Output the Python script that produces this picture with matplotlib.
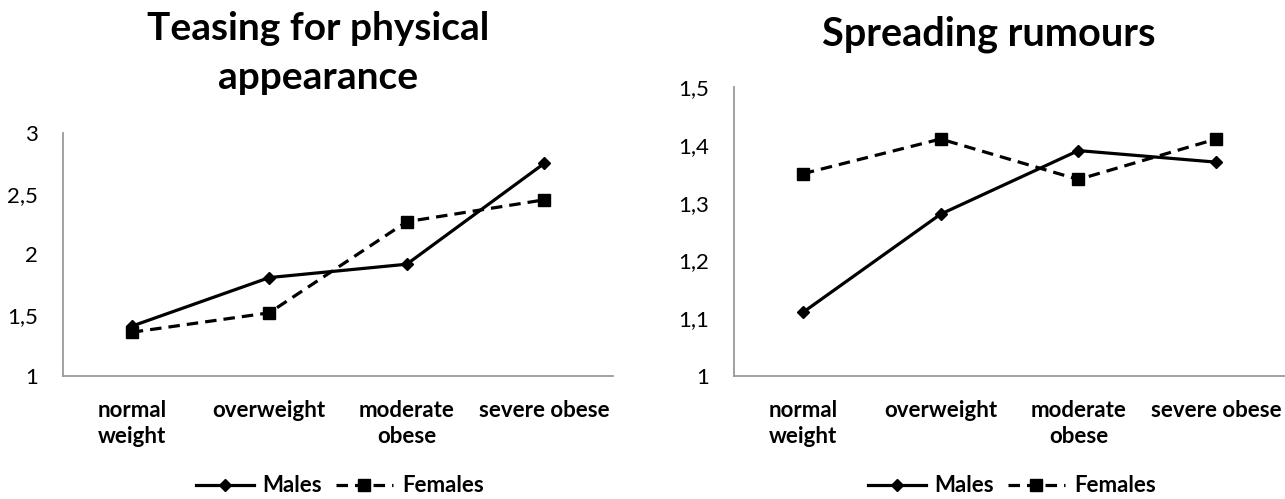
import matplotlib.pyplot as plt
from matplotlib.ticker import FuncFormatter
from matplotlib.lines import Line2D

plt.rcParams['font.family'] = ['Lato', 'DejaVu Sans']

categories = ['normal\nweight', 'overweight', 'moderate\nobese', 'severe obese']

teasing_males = [1.41, 1.81, 1.92, 2.75]
teasing_females = [1.36, 1.52, 2.27, 2.45]

rumours_males = [1.11, 1.28, 1.39, 1.37]
rumours_females = [1.35, 1.41, 1.34, 1.41]

teasing_ticks = [1, 1.5, 2, 2.5, 3]
rumours_ticks = [1, 1.1, 1.2, 1.3, 1.4, 1.5]


def comma(v, pos):
    s = ('%.1f' % v).rstrip('0').rstrip('.')
    return s.replace('.', ',')


def panel(ax, males, females, ticks):
    x = range(len(categories))
    ax.plot(x, males, '-', color='black', lw=2.3, marker='D', ms=6)
    ax.plot(x, females, '--', color='black', lw=2.3, marker='s', ms=9,
            dashes=(3.6, 2.2))
    ax.set_xlim(-0.5, len(categories) - 0.5)
    ax.set_ylim(ticks[0], ticks[-1])
    ax.set_yticks(ticks)
    ax.yaxis.set_major_formatter(FuncFormatter(comma))
    ax.set_xticks(list(x))
    ax.set_xticklabels(categories, fontweight='bold', fontsize=16,
                       linespacing=1.3)
    ax.tick_params(axis='y', length=0, labelsize=16, pad=18)
    ax.tick_params(axis='x', length=0, pad=17)
    for s in ['top', 'right']:
        ax.spines[s].set_visible(False)
    for s in ['left', 'bottom']:
        ax.spines[s].set_color('#9a9a9a')
        ax.spines[s].set_linewidth(1.3)


W, H = 1285, 499
fig = plt.figure(figsize=(W / 100, H / 100), dpi=100)
ax1 = fig.add_axes([63 / W, 1 - 376 / H, 550 / W, 243 / H])
ax2 = fig.add_axes([734 / W, 1 - 376 / H, 551 / W, 289 / H])

panel(ax1, teasing_males, teasing_females, teasing_ticks)
panel(ax2, rumours_males, rumours_females, rumours_ticks)

fig.text(318 / W, 1 - 53 / H, 'Teasing for physical\nappearance',
         ha='center', va='center', fontsize=28, fontweight='bold',
         linespacing=1.45)
fig.text(989 / W, 1 - 34 / H, 'Spreading rumours',
         ha='center', va='center', fontsize=28.5, fontweight='bold')

handles = [Line2D([], [], color='black', lw=2.3, marker='D', ms=6),
           Line2D([], [], color='black', lw=2.3, ls='--', marker='s', ms=9,
                  dashes=(3.6, 2.2))]
for cx in [340 / W, 1012 / W]:
    fig.legend(handles, ['Males', 'Females'], loc='center',
               bbox_to_anchor=(cx, 1 - 486 / H), ncol=2, frameon=False,
               prop={'weight': 'bold', 'size': 16}, handlelength=2.6,
               columnspacing=0.6, handletextpad=0.4)

fig.savefig('out.png', dpi=100)
